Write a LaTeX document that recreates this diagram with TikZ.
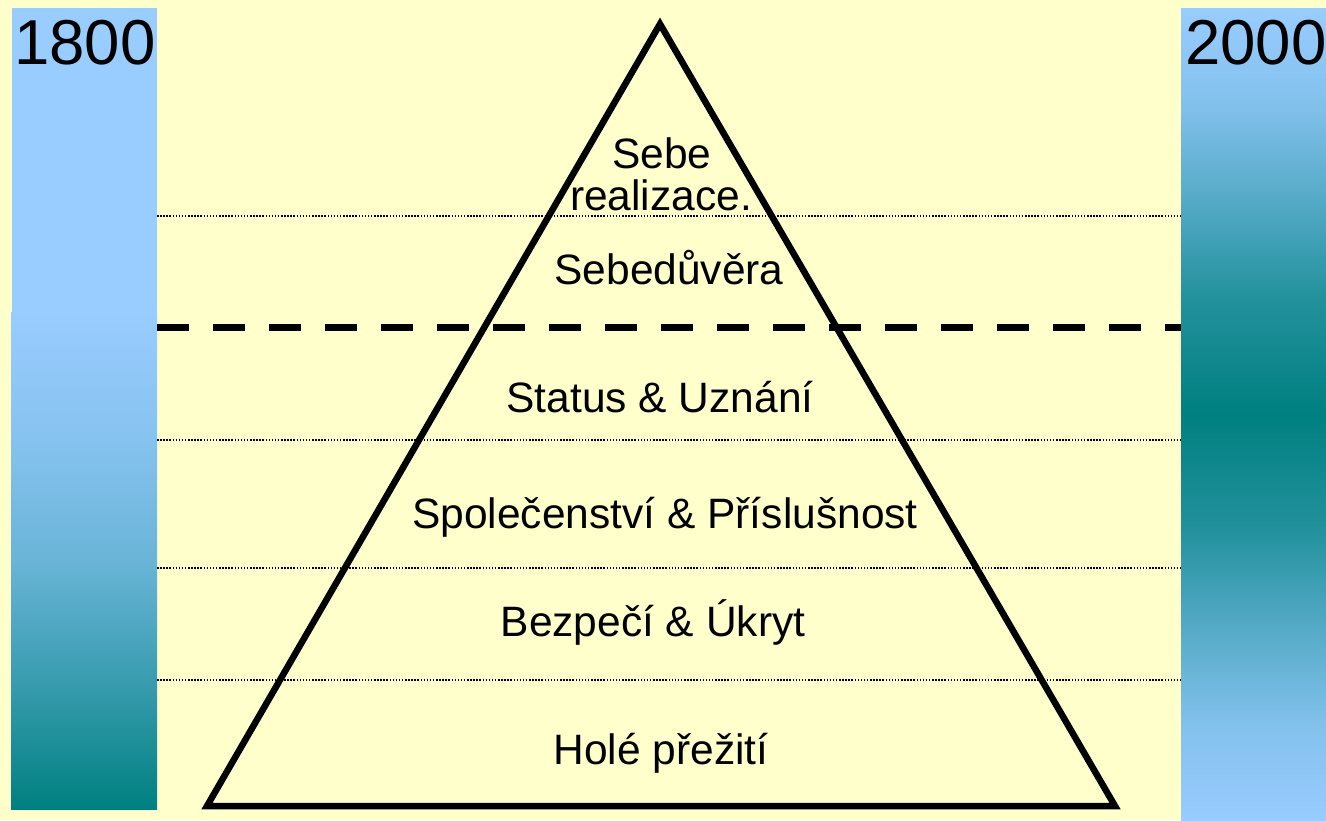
\documentclass[tikz,border=0pt]{standalone}
\usepackage{fontspec}
\setmainfont{Liberation Sans}
\definecolor{bgyellow}{HTML}{FFFFCC}
\definecolor{lblue}{HTML}{99CCFF}
\definecolor{tealc}{HTML}{008080}
\pgfdeclareverticalshading{leftbarshade}{100bp}{color(0bp)=(tealc); color(25bp)=(tealc);
  color(37.5bp)=(lblue!36!tealc); color(50bp)=(lblue!69!tealc);
  color(62.5bp)=(lblue!88!tealc); color(75bp)=(lblue); color(100bp)=(lblue)}
\pgfdeclareverticalshading{rightbarshade}{100bp}{color(0bp)=(lblue); color(25bp)=(lblue);
  color(30.75bp)=(lblue!86!tealc); color(36.75bp)=(lblue!56!tealc);
  color(43bp)=(lblue!22!tealc); color(50bp)=(tealc);
  color(57bp)=(lblue!22!tealc); color(63.25bp)=(lblue!56!tealc);
  color(69.25bp)=(lblue!86!tealc);
  color(75bp)=(lblue); color(100bp)=(lblue)}
\begin{document}
\begin{tikzpicture}[x=1pt,y=-1pt,
  lvl/.style={anchor=base,font=\fontsize{42.5}{42}\selectfont,inner sep=0pt},
  year/.style={anchor=base,font=\fontsize{63.5}{63.5}\selectfont,inner sep=0pt},
  dotline/.style={line width=1.3pt,dash pattern=on 1.5pt off 1.6pt},
  bigdash/.style={line width=7pt,dash pattern=on 32pt off 24pt},
  pyr/.style={line width=6.5pt,line join=miter}]
\useasboundingbox (0,0) rectangle (1326,820);
\fill[bgyellow] (0,0) rectangle (1326,820);
% left bar
\fill[lblue] (12,8) rectangle (157,312);
\shade[shading=leftbarshade] (11,312) rectangle (157,809);
% right bar
\shade[shading=rightbarshade] (1181,8) rectangle (1326,820);
% year labels
\node[year] (y1800) at (85,64) {1800};
\node[year] (y2000) at (1256,64) {2000};
% level lines
\coordinate (d1l) at (157,216); \coordinate (d1r) at (1181,216);
\coordinate (d2l) at (157,440); \coordinate (d2r) at (1181,440);
\coordinate (d3l) at (157,568); \coordinate (d3r) at (1181,568);
\coordinate (d4l) at (157,680); \coordinate (d4r) at (1181,680);
\coordinate (dal) at (157,327); \coordinate (dar) at (1181,327);
\draw[dotline] (d1l) -- (d1r);
\draw[dotline] (d2l) -- (d2r);
\draw[dotline] (d3l) -- (d3r);
\draw[dotline] (d4l) -- (d4r);
\draw[bigdash] (dal) -- (dar);
% pyramid
\coordinate (apex) at (660,24);
\coordinate (bl) at (207,806);
\coordinate (br) at (1115,806);
\draw[pyr] (apex) -- (br) -- (bl) -- cycle;
% labels
\node[lvl] (l6a) at (662,168) {Sebe};
\node[lvl] (l6b) at (661,210) {realizace.};
\node[lvl] (l5) at (669,284) {Sebedůvěra};
\node[lvl] (l4) at (660,412) {Status \& Uznání};
\node[lvl] (l3) at (665,528) {Společenství \& Příslušnost};
\node[lvl] (l2) at (653,636) {Bezpečí \& Úkryt};
\node[lvl] (l1) at (661,764) {Holé přežití};
\end{tikzpicture}
\end{document}
